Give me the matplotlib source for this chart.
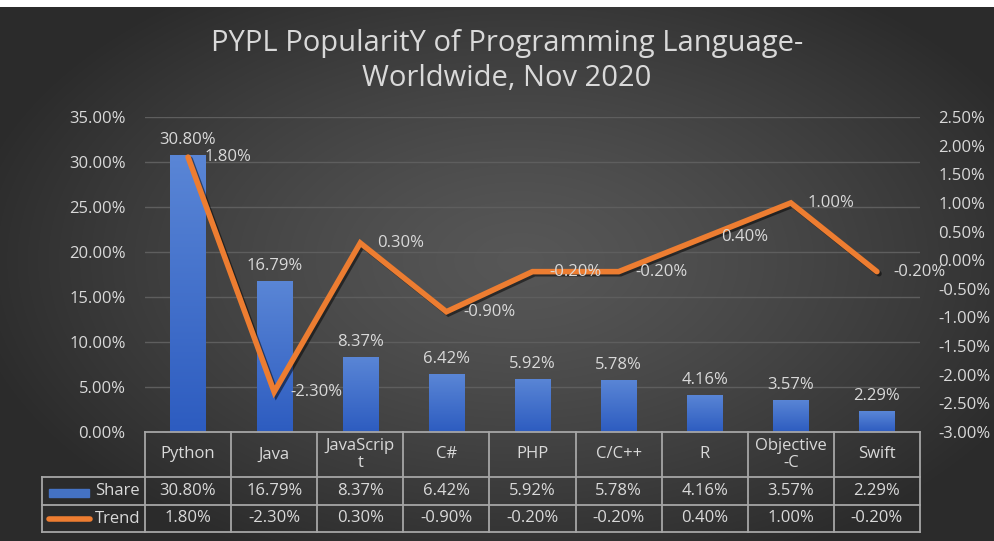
import numpy as np
import matplotlib
matplotlib.use("Agg")
import matplotlib.pyplot as plt
import matplotlib.patheffects as pe
from matplotlib.patches import Rectangle
from matplotlib.lines import Line2D
from matplotlib.colors import LinearSegmentedColormap

categories = ["Python", "Java", "JavaScript", "C#", "PHP", "C/C++", "R", "Objective-C", "Swift"]
header_labels = ["Python", "Java", "JavaScrip\nt", "C#", "PHP", "C/C++", "R", "Objective\n-C", "Swift"]
share = [30.80, 16.79, 8.37, 6.42, 5.92, 5.78, 4.16, 3.57, 2.29]
trend = [1.80, -2.30, 0.30, -0.90, -0.20, -0.20, 0.40, 1.00, -0.20]
left_ticks = [0, 5, 10, 15, 20, 25, 30, 35]
right_ticks = [-3.0, -2.5, -2.0, -1.5, -1.0, -0.5, 0.0, 0.5, 1.0, 1.5, 2.0, 2.5]
title = "PYPL PopularitY of Programming Language-\nWorldwide, Nov 2020"

FONT = "Open Sans"
TXT = "#d9d9d9"
GRID = "#5e5e5e"
TBL = "#a6a6a6"
FS = 12
W, H = 995, 541

fig = plt.figure(figsize=(W / 100, H / 100), dpi=100)

# background radial gradient
bg = fig.add_axes([0, 0, 1, 1], zorder=-10)
yy, xx = np.mgrid[0:H, 0:W]
d = np.sqrt(((xx - 520) / 560.0) ** 2 + ((yy - 260) / 330.0) ** 2)
d = np.clip(d, 0, 1)
c = 0.34 - 0.17 * d ** 1.3
img = np.dstack([c, c, c])
img[:7, :, :] = 1.0
bg.imshow(img, aspect="auto", extent=[0, 1, 0, 1], origin="upper")
bg.axis("off")

ax_l, ax_r, ax_top, ax_bot = 145, 920, 117, 432
ax = fig.add_axes([ax_l / W, 1 - ax_bot / H, (ax_r - ax_l) / W, (ax_bot - ax_top) / H])
ax.patch.set_alpha(0)
x = np.arange(len(categories))
ax.set_yticks(left_ticks)
ax.set_yticklabels([f"{t:.2f}%" for t in left_ticks], color=TXT, fontsize=FS, family=FONT)
ax.tick_params(axis="y", length=0, pad=14)
ax.set_xticks([])
for s in ax.spines.values():
    s.set_visible(False)
for t in left_ticks[1:]:
    ax.axhline(t, color=GRID, lw=1, zorder=0)

bars = ax.bar(x, share, width=0.41, color="#4472c4", zorder=2)
grad = np.linspace(0, 1, 256).reshape(-1, 1)
cmap = LinearSegmentedColormap.from_list("b", ["#2d5cc0", "#5a86d6"])
for b in bars:
    b.set_facecolor("none")
    im = ax.imshow(grad, cmap=cmap, aspect="auto", origin="lower",
                   extent=[b.get_x(), b.get_x() + b.get_width(), 0, b.get_height()], zorder=2)
    im.set_clip_path(b)
    ax.annotate(f"{b.get_height():.2f}%", (b.get_x() + b.get_width() / 2, b.get_height()),
                xytext=(0, 5), textcoords="offset points", ha="center", va="bottom",
                color=TXT, fontsize=FS, family=FONT, zorder=5)
ax.set_xlim(-0.5, len(categories) - 0.5)
ax.set_ylim(0, 35)

ax2 = ax.twinx()
ax2.set_ylim(-3, 2.5)
ax2.set_yticks(right_ticks)
ax2.set_yticklabels([f"{t:.2f}%" for t in right_ticks], color=TXT, fontsize=FS, family=FONT)
ax2.tick_params(axis="y", length=0, pad=13)
for s in ax2.spines.values():
    s.set_visible(False)
ax2.plot(x, trend, color="#ed7d31", lw=4, solid_joinstyle="miter", solid_capstyle="round", zorder=4,
         path_effects=[pe.SimpleLineShadow(offset=(1.5, -1.5), shadow_color="black", alpha=0.5), pe.Normal()])
for xi, v in zip(x, trend):
    ax2.annotate(f"{v:.2f}%", (xi, v), xytext=(12, 0), textcoords="offset points",
                 ha="left", va="center", color=TXT, fontsize=FS, family=FONT, zorder=6)

# data table
def fy(ypx):
    return 1 - ypx / H
def fx(xpx):
    return xpx / W
rows = [432, 477, 505, 532]
leg_left = 42
ncol = len(categories)
colw = (ax_r - ax_l) / ncol
lines = []
lines.append(((ax_l, ax_r), (rows[0], rows[0])))
lines.append(((leg_left, ax_r), (rows[1], rows[1])))
lines.append(((leg_left, ax_r), (rows[2], rows[2])))
lines.append(((leg_left, ax_r), (rows[3], rows[3])))
lines.append(((leg_left, leg_left), (rows[1], rows[3])))
for i in range(ncol + 1):
    xp = ax_l + i * colw
    lines.append(((xp, xp), (rows[0], rows[3])))
for (xs, ys) in lines:
    fig.add_artist(Line2D([fx(xs[0]), fx(xs[1])], [fy(ys[0]), fy(ys[1])], color=TBL, lw=1.3))

for i in range(ncol):
    cx = fx(ax_l + (i + 0.5) * colw)
    fig.text(cx, fy((rows[0] + rows[1]) / 2), header_labels[i], ha="center", va="center",
             color=TXT, fontsize=FS, family=FONT, linespacing=1.05)
    fig.text(cx, fy((rows[1] + rows[2]) / 2), f"{share[i]:.2f}%", ha="center", va="center",
             color=TXT, fontsize=FS, family=FONT)
    fig.text(cx, fy((rows[2] + rows[3]) / 2), f"{trend[i]:.2f}%", ha="center", va="center",
             color=TXT, fontsize=FS, family=FONT)

fig.add_artist(Rectangle((fx(49), fy(497)), fx(89) - fx(49), fy(489) - fy(497), color="#4472c4"))
fig.add_artist(Line2D([fx(49), fx(90)], [fy(519), fy(519)], color="#ed7d31", lw=4, solid_capstyle="round"))
fig.text(fx(140), fy(491), "Share", ha="right", va="center", color=TXT, fontsize=FS, family=FONT)
fig.text(fx(140), fy(519), "Trend", ha="right", va="center", color=TXT, fontsize=FS, family=FONT)

fig.text(fx(507), fy(61), title, ha="center", va="center", color=TXT, fontsize=21,
         family=FONT, linespacing=1.3)

fig.savefig("out.png", dpi=100)
